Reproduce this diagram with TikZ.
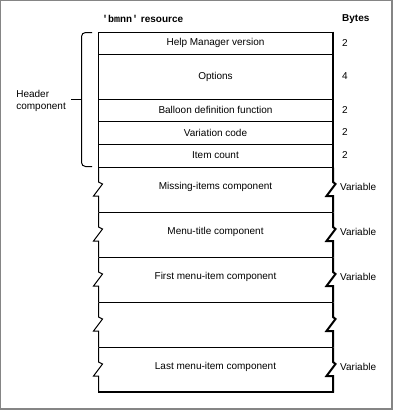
\documentclass[tikz,border=0pt]{standalone}
\usepackage{fontspec}
\setmainfont{Liberation Sans}
\newfontfamily\monofont{Liberation Mono}
\usetikzlibrary{positioning}
\definecolor{FrameGray}{HTML}{858585}

\begin{document}
\begin{tikzpicture}[x=1pt, y=-1pt,
    font=\fontsize{10}{12}\selectfont,
    rule/.style={draw=black, line width=1pt},
    heavy/.style={draw=black, line width=2pt},
    field/.style={inner sep=0pt, anchor=center},
    bytes/.style={inner sep=0pt, anchor=west},
    head/.style={font=\fontsize{10}{12}\selectfont\bfseries, inner sep=0pt, anchor=west},
  ]
    \useasboundingbox (0,0) rectangle (393,410);
    % ---- frame ----
    \draw[FrameGray, line width=1pt] (0.5,409) -- (0.5,0.5) -- (392,0.5);
    \draw[FrameGray, line width=2.5pt] (0,408.75) -- (391.75,408.75) -- (391.75,0);
    % ---- headings ----
    \node[head] (rsrc)  at (102,19) {{\monofont\bfseries 'bmnn'} resource};
    \node[head] (bytes) at (342,19) {Bytes};
    % ---- header fields ----
    \draw[rule] (98.5,32.5) -- (333,32.5);
    \foreach \y in {54.5,99.5,121.5,144.5,167.5,212.5,257.5,302.5,347.5}
      \draw[rule] (98.5,\y) -- (333,\y);
    \draw[rule]  (98.5,32) -- (98.5,167.5);
    \draw[heavy] (333,31.5) -- (333,167.5);
    % ---- variable fields (broken edges) ----
    \foreach \t in {167.5,212.5,257.5,302.5,347.5} {
      \draw[rule] (98.5,\t) -- (98.5,\t+14.5) -- (102.5,\t+16.5)
        -- (93.5,\t+28.5) -- (98.5,\t+28.5) -- (98.5,\t+45);
      \draw[heavy] (333,\t) -- (333,\t+14.5) -- (335.5,\t+16.5)
        -- (326.5,\t+28.5) -- (333,\t+28.5) -- (333,\t+45);
    }
    \draw[heavy] (98,392) -- (334,392);
    % ---- field names ----
    \node[field] (hmv)    at (215.5,43)    {Help Manager version};
    \node[field] (opts)   at (215.5,76.5)  {Options};
    \node[field] (bdf)    at (215.5,110)   {Balloon definition function};
    \node[field] (varc)   at (215.5,132.5) {Variation code};
    \node[field] (icnt)   at (215.5,155.5) {Item count};
    \node[field] (miss)   at (215.5,187)   {Missing-items component};
    \node[field] (mtitle) at (215.5,232)   {Menu-title component};
    \node[field] (first)  at (215.5,277)   {First menu-item component};
    \node[field] (last)   at (215.5,367)   {Last menu-item component};
    % ---- sizes ----
    \node[bytes] (hmvb)    at (342,43)    {2};
    \node[bytes] (optsb)   at (342,76.5)  {4};
    \node[bytes] (bdfb)    at (342,110)   {2};
    \node[bytes] (varcb)   at (342,132.5) {2};
    \node[bytes] (icntb)   at (342,155.5) {2};
    \node[bytes] (missb)   at (340,187)   {Variable};
    \node[bytes] (mtitleb) at (340,232)   {Variable};
    \node[bytes] (firstb)  at (340,277)   {Variable};
    \node[bytes] (lastb)   at (340,367)   {Variable};
    % ---- header brace ----
    \node[inner sep=0pt, align=left, anchor=east] (hdr) at (66,101) {Header\\component};
    \draw[rule, rounded corners=4pt] (92,32.5) -- (81.5,32.5) -- (81.5,166.5) -- (92,166.5);
    \coordinate (brtip) at (81.5,99.5);
    \draw[rule, shorten >=5pt] (brtip) -- (brtip -| hdr.east);
  \end{tikzpicture}
\end{document}
